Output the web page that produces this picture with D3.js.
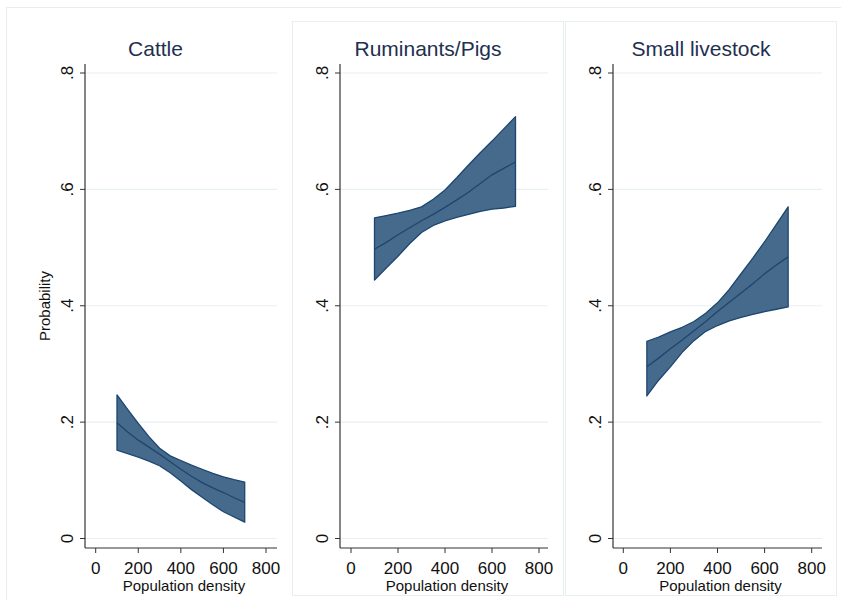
<!DOCTYPE html>
<html>
<head>
<meta charset="utf-8">
<script src="https://cdn.jsdelivr.net/npm/d3@7"></script>
<style>
  body { margin: 0; background: #fff; }
  svg { display: block; font-family: "Liberation Sans", Arial, sans-serif; }
</style>
</head>
<body>
<div id="chart"></div>
<script>
// population density values where margins were predicted
var density = [100, 150, 200, 250, 300, 350, 400, 450, 500, 550, 600, 650, 700];

// Cattle
var cattleMean  = [0.199, 0.183, 0.169, 0.157, 0.145, 0.132, 0.119, 0.107, 0.096, 0.087, 0.079, 0.070, 0.062];
var cattleLower = [0.152, 0.146, 0.140, 0.133, 0.125, 0.113, 0.099, 0.084, 0.071, 0.058, 0.046, 0.037, 0.028];
var cattleUpper = [0.247, 0.222, 0.198, 0.175, 0.155, 0.142, 0.134, 0.126, 0.119, 0.112, 0.106, 0.101, 0.097];

// Ruminants/Pigs
var rumMean  = [0.497, 0.509, 0.522, 0.534, 0.546, 0.557, 0.569, 0.582, 0.595, 0.610, 0.625, 0.636, 0.647];
var rumLower = [0.444, 0.465, 0.485, 0.507, 0.526, 0.538, 0.546, 0.552, 0.557, 0.562, 0.566, 0.568, 0.571];
var rumUpper = [0.551, 0.555, 0.559, 0.564, 0.570, 0.583, 0.599, 0.620, 0.642, 0.663, 0.683, 0.704, 0.725];

// Small livestock
var smallMean  = [0.295, 0.310, 0.326, 0.341, 0.357, 0.373, 0.390, 0.406, 0.422, 0.438, 0.455, 0.470, 0.484];
var smallLower = [0.245, 0.272, 0.295, 0.320, 0.340, 0.356, 0.366, 0.374, 0.380, 0.385, 0.390, 0.394, 0.398];
var smallUpper = [0.339, 0.346, 0.355, 0.363, 0.373, 0.387, 0.405, 0.428, 0.455, 0.482, 0.510, 0.540, 0.570];

var panelTitles = ["Cattle", "Ruminants/Pigs", "Small livestock"];
var yTicks = [0, 0.2, 0.4, 0.6, 0.8];
var yTickLabels = ["0", ".2", ".4", ".6", ".8"];
var xTicks = [0, 200, 400, 600, 800];

function init() {
  var w = 841, h = 600;

  var svg = d3.select("#chart").append("svg")
    .attr("width", w)
    .attr("height", h);

  // outer graph frame
  svg.append("rect")
    .attr("x", 6.5).attr("y", 7.5)
    .attr("width", 845).attr("height", 600)
    .attr("fill", "none")
    .attr("stroke", "#e6eeee");

  var series = [
    { mean: cattleMean, lower: cattleLower, upper: cattleUpper },
    { mean: rumMean, lower: rumLower, upper: rumUpper },
    { mean: smallMean, lower: smallLower, upper: smallUpper }
  ];

  // layout of each sub graph
  var panels = [
    { bx: 20, bw: 271, border: false, axisX: 85, axisR: 277, x0: 95.7, x1: 266 },
    { bx: 292.5, bw: 271, border: true, axisX: 340, axisR: 548, x0: 351, x1: 539 },
    { bx: 565.5, bw: 271, border: true, axisX: 613, axisR: 822, x0: 623.3, x1: 811.7 }
  ];

  var yTop = 64, yBot = 548;
  var yScale = d3.scaleLinear().domain([0, 0.8]).range([538.5, 73]);

  var fillCol = "#466a8c";
  var lineCol = "#1c4670";

  panels.forEach(function(p, i) {
    var g = svg.append("g");

    if (p.border) {
      g.append("rect")
        .attr("x", p.bx).attr("y", 21.5)
        .attr("width", p.bw).attr("height", 574)
        .attr("fill", "#fff")
        .attr("stroke", "#e6eeee");
    }

    var xScale = d3.scaleLinear().domain([0, 800]).range([p.x0, p.x1]);

    // grid lines
    g.selectAll(".grid")
      .data(yTicks)
      .enter()
      .append("line")
      .attr("x1", p.axisX).attr("x2", p.axisR)
      .attr("y1", function(d) { return yScale(d); })
      .attr("y2", function(d) { return yScale(d); })
      .attr("stroke", "#e8f0f1")
      .attr("stroke-width", 1.2);

    // confidence band
    var s = series[i];
    var rows = density.map(function(d, k) {
      return { x: d, m: s.mean[k], lo: s.lower[k], hi: s.upper[k] };
    });

    var area = d3.area()
      .x(function(d) { return xScale(d.x); })
      .y0(function(d) { return yScale(d.lo); })
      .y1(function(d) { return yScale(d.hi); });

    g.append("path")
      .datum(rows)
      .attr("d", area)
      .attr("fill", fillCol)
      .attr("stroke", lineCol)
      .attr("stroke-width", 1.3)
      .attr("stroke-linejoin", "round");

    var line = d3.line()
      .x(function(d) { return xScale(d.x); })
      .y(function(d) { return yScale(d.m); });

    g.append("path")
      .datum(rows)
      .attr("d", line)
      .attr("fill", "none")
      .attr("stroke", lineCol)
      .attr("stroke-width", 1.3);

    // y axis
    g.append("line")
      .attr("x1", p.axisX).attr("x2", p.axisX)
      .attr("y1", yTop).attr("y2", yBot)
      .attr("stroke", "#333").attr("stroke-width", 1.2);

    g.selectAll(".ytick")
      .data(yTicks)
      .enter()
      .append("line")
      .attr("x1", p.axisX - 5).attr("x2", p.axisX)
      .attr("y1", function(d) { return yScale(d); })
      .attr("y2", function(d) { return yScale(d); })
      .attr("stroke", "#333");

    g.selectAll(".ylab")
      .data(yTicks)
      .enter()
      .append("text")
      .attr("transform", function(d) {
        return "translate(" + (p.axisX - 12) + "," + yScale(d) + ") rotate(-90)";
      })
      .attr("text-anchor", "middle")
      .attr("font-size", 17)
      .attr("fill", "#111")
      .text(function(d, k) { return yTickLabels[k]; });

    // x axis
    g.append("line")
      .attr("x1", p.axisX).attr("x2", p.axisR)
      .attr("y1", yBot).attr("y2", yBot)
      .attr("stroke", "#333").attr("stroke-width", 1.2);

    g.selectAll(".xtick")
      .data(xTicks)
      .enter()
      .append("line")
      .attr("x1", function(d) { return xScale(d); })
      .attr("x2", function(d) { return xScale(d); })
      .attr("y1", yBot).attr("y2", yBot + 5)
      .attr("stroke", "#333");

    g.selectAll(".xlab")
      .data(xTicks)
      .enter()
      .append("text")
      .attr("x", function(d) { return xScale(d); })
      .attr("y", 574)
      .attr("text-anchor", "middle")
      .attr("font-size", 17)
      .attr("fill", "#111")
      .text(function(d) { return d; });

    g.append("text")
      .attr("x", (p.axisX + p.axisR) / 2 + 3)
      .attr("y", 591)
      .attr("text-anchor", "middle")
      .attr("font-size", 15)
      .attr("fill", "#111")
      .text("Population density");

    // panel title
    g.append("text")
      .attr("x", p.bx + p.bw / 2)
      .attr("y", 56)
      .attr("text-anchor", "middle")
      .attr("font-size", 21)
      .attr("fill", "#1e3050")
      .text(panelTitles[i]);
  });

  // y axis title, first panel only
  svg.append("text")
    .attr("transform", "translate(50," + ((yTop + yBot) / 2) + ") rotate(-90)")
    .attr("text-anchor", "middle")
    .attr("font-size", 15)
    .attr("fill", "#111")
    .text("Probability");
}

window.onload = init;
</script>
</body>
</html>
